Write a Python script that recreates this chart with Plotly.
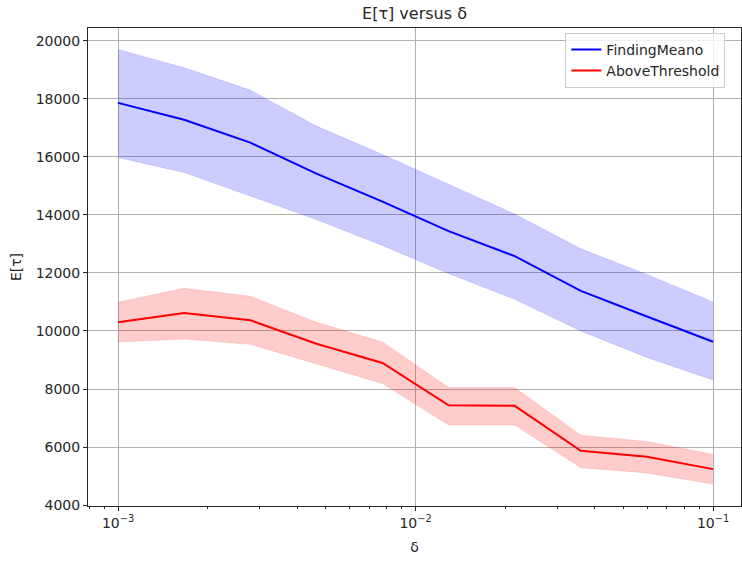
import numpy as np
import plotly.graph_objects as go

delta = [0.001, 0.001668, 0.002783, 0.004642, 0.007743, 0.012915, 0.021544, 0.035938, 0.059948, 0.1]

fm_mean = [17860, 17280, 16490, 15420, 14460, 13440, 12580, 11380, 10500, 9630]
fm_upper = [19700, 19070, 18300, 17060, 16080, 15045, 14030, 12830, 11950, 11000]
fm_lower = [15980, 15460, 14650, 13840, 12945, 11980, 11090, 10000, 9090, 8310]

at_mean = [10300, 10620, 10370, 9560, 8900, 7440, 7420, 5870, 5670, 5240]
at_upper = [10990, 11470, 11200, 10300, 9620, 8050, 8050, 6410, 6190, 5750]
at_lower = [9620, 9720, 9540, 8860, 8190, 6760, 6760, 5290, 5110, 4730]

x_tickvals = [0.001, 0.01, 0.1]
x_ticktext = ["10<sup>\u22123</sup>", "10<sup>\u22122</sup>", "10<sup>\u22121</sup>"]
y_tickvals = [4000, 6000, 8000, 10000, 12000, 14000, 16000, 18000, 20000]
y_ticktext = [str(v) for v in y_tickvals]

minor_vals = [m * 10.0 ** e for e in (-4, -3, -2, -1) for m in range(2, 10)]

fig = go.Figure()

def band(x, lo, hi, fill):
    fig.add_trace(go.Scatter(x=x, y=hi, mode="lines", line=dict(width=0.6, color=fill),
                             showlegend=False, hoverinfo="skip"))
    fig.add_trace(go.Scatter(x=x, y=lo, mode="lines", line=dict(width=0.6, color=fill),
                             fill="tonexty", fillcolor=fill, showlegend=False, hoverinfo="skip"))

band(delta, fm_lower, fm_upper, "rgba(0,0,255,0.2)")
band(delta, at_lower, at_upper, "rgba(255,0,0,0.2)")

fig.add_trace(go.Scatter(x=delta, y=fm_mean, mode="lines", name="FindingMeano",
                         line=dict(color="#0000ff", width=2)))
fig.add_trace(go.Scatter(x=delta, y=at_mean, mode="lines", name="AboveThreshold",
                         line=dict(color="#ff0000", width=2)))

font_family = "DejaVu Sans, sans-serif"
fig.update_layout(
    width=742, height=561,
    margin=dict(l=88, r=1, t=28, b=55, autoexpand=False),
    paper_bgcolor="white", plot_bgcolor="white",
    font=dict(family=font_family, size=14, color="#262626"),
    title=dict(text="E[\u03c4] versus \u03b4", x=0.5, xanchor="center", y=1 - 13 / 561, yanchor="middle",
               xref="paper", yref="container", font=dict(size=16, color="#262626"), automargin=False),
    legend=dict(x=0.731, y=0.99, xanchor="left", yanchor="top", traceorder="normal",
                bordercolor="#cccccc", borderwidth=1, bgcolor="rgba(255,255,255,0.8)",
                font=dict(size=14), tracegroupgap=0),
    xaxis=dict(type="log", range=[-3.101, -0.906], tickvals=x_tickvals, ticktext=x_ticktext,
               showgrid=True, gridcolor="#b0b0b0", gridwidth=1,
               ticks="outside", ticklen=4, tickcolor="#262626",
               showline=True, linecolor="#262626", linewidth=1, mirror=True, automargin=False,
               minor=dict(tickvals=minor_vals, ticks="outside", ticklen=2, tickcolor="#262626", showgrid=False),
               title=dict(text="\u03b4", standoff=12, font=dict(size=14)), zeroline=False),
    yaxis=dict(range=[3970, 20440], tickvals=y_tickvals, ticktext=y_ticktext,
               showgrid=True, gridcolor="#b0b0b0", gridwidth=1,
               ticks="outside", ticklen=4, tickcolor="#262626",
               showline=True, linecolor="#262626", linewidth=1, mirror=True, automargin=False,
               title=dict(text="E[\u03c4]", standoff=10, font=dict(size=14)), zeroline=False),
)

fig.write_html("out.html", post_script="document.body.style.margin='0';",
               config={"displayModeBar": False})
